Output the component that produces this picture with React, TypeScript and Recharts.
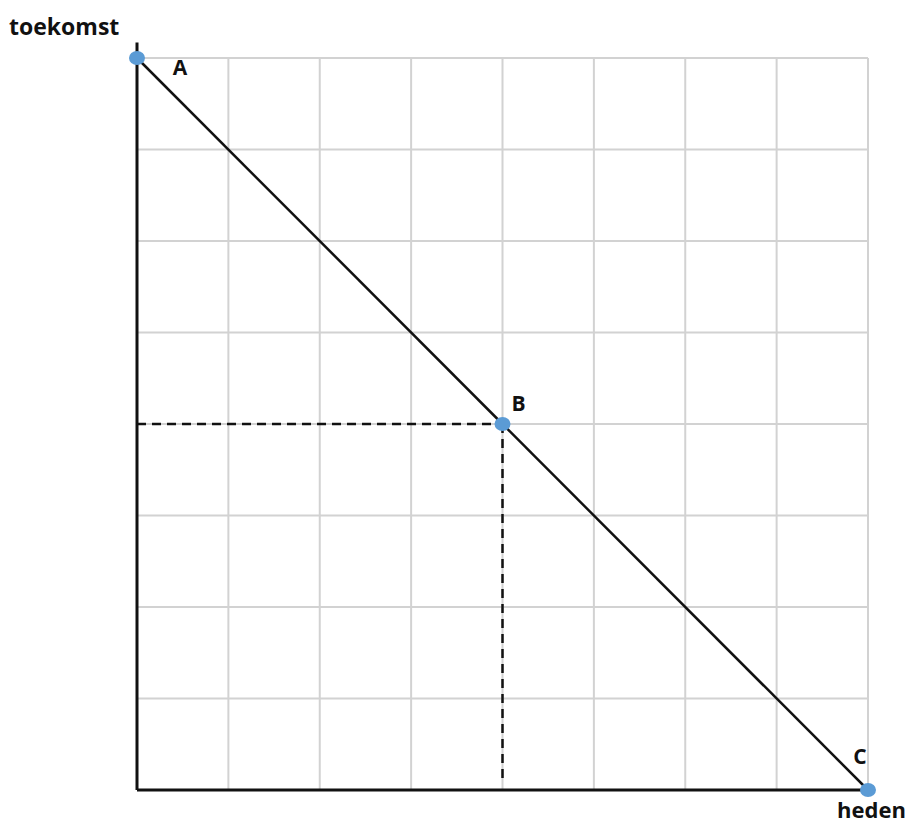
import React from 'react';
import { ComposedChart, Line, XAxis, YAxis, CartesianGrid, ReferenceLine, LabelList } from 'recharts';

const pointNames = ['A', 'B', 'C'];
const hedenValues = [0, 4, 8];
const toekomstValues = [8, 4, 0];
const gridTicks = [0, 1, 2, 3, 4, 5, 6, 7, 8];
const xAxisTitle = 'heden';
const yAxisTitle = 'toekomst';
const markedIndex = 1;

const data = pointNames.map((name, i) => ({ name, heden: hedenValues[i], toekomst: toekomstValues[i] }));

const labelOffsets: Record<string, [number, number]> = {
  A: [43, 17],
  B: [16, -13],
  C: [-8, -26],
};

const FONT = '"Open Sans", "Liberation Sans", Arial, sans-serif';

const PointLabel = (props: any) => {
  const { x, y, value } = props;
  const [dx, dy] = labelOffsets[value] || [0, 0];
  return (
    <text x={x + dx} y={y + dy} textAnchor="middle" fontFamily={FONT} fontWeight={700} fontSize={21} fill="#111">
      {value}
    </text>
  );
};

const Dot = (props: any) => {
  const { cx, cy, index } = props;
  return <ellipse key={`d${index}`} cx={cx} cy={cy} rx={8} ry={7} fill="#5b9bd5" />;
};

export default function App() {
  const m = data[markedIndex];
  return (
    <div style={{ position: 'absolute', left: 0, top: 0, width: 911, height: 826, background: '#fff' }}>
      <ComposedChart
        width={911}
        height={826}
        data={data}
        margin={{ top: 58, right: 43, bottom: 36, left: 137 }}
      >
        <XAxis dataKey="heden" type="number" domain={[0, 8]} ticks={gridTicks} hide />
        <YAxis dataKey="toekomst" type="number" domain={[0, 8]} ticks={gridTicks} hide />
        <CartesianGrid stroke="#d2d2d2" strokeWidth={2} />
        <ReferenceLine
          segment={[{ x: 0, y: 0 }, { x: 8, y: 0 }]}
          stroke="#111"
          strokeWidth={3}
          ifOverflow="visible"
        />
        <ReferenceLine
          segment={[{ x: 0, y: 0 }, { x: 0, y: 8.17 }]}
          stroke="#111"
          strokeWidth={3}
          ifOverflow="visible"
        />
        <ReferenceLine
          segment={[{ x: 0, y: m.toekomst }, { x: m.heden, y: m.toekomst }]}
          stroke="#111"
          strokeWidth={2.5}
          strokeDasharray="9 6"
        />
        <ReferenceLine
          segment={[{ x: m.heden, y: m.toekomst }, { x: m.heden, y: 0.07 }]}
          stroke="#111"
          strokeWidth={2.5}
          strokeDasharray="9 6"
        />
        <Line
          dataKey="toekomst"
          stroke="#111"
          strokeWidth={2.5}
          dot={<Dot />}
          activeDot={false}
          isAnimationActive={false}
        >
          <LabelList dataKey="name" content={<PointLabel />} />
        </Line>
      </ComposedChart>
      <svg width={911} height={826} style={{ position: 'absolute', left: 0, top: 0, pointerEvents: 'none' }}>
        <text x={9} y={35} fontFamily={FONT} fontWeight={700} fontSize={23} fill="#111">
          {yAxisTitle}
        </text>
        <text x={837} y={818} fontFamily={FONT} fontWeight={700} fontSize={22} fill="#111">
          {xAxisTitle}
        </text>
      </svg>
    </div>
  );
}
